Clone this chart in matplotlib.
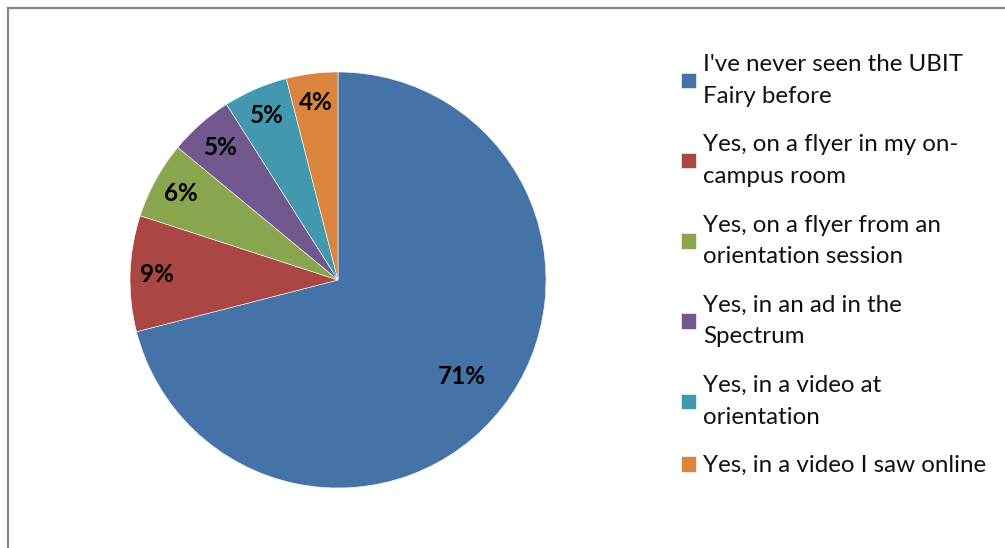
import matplotlib.pyplot as plt
from matplotlib.lines import Line2D
import numpy as np

plt.rcParams['font.family'] = ['Lato', 'DejaVu Sans']

# survey answers, percent of respondents
answers = ["I've never seen the UBIT\nFairy before",
           "Yes, on a flyer in my on-\ncampus room",
           "Yes, on a flyer from an\norientation session",
           "Yes, in an ad in the\nSpectrum",
           "Yes, in a video at\norientation",
           "Yes, in a video I saw online"]
pct = [71, 9, 6, 5, 5, 4]

colors = ['#4572A7', '#AA4643', '#89A54E', '#71588F', '#4198AF', '#DB843D']
label_dist = [0.755, 0.87, 0.86, 0.85, 0.86, 0.86]

W, H = 1005, 548
fig = plt.figure(figsize=(W / 100, H / 100), dpi=100)

# pie centre (338, 280) px, radius 208 px
cx, cy, r = 338, 280, 208
ax = fig.add_axes([(cx - r) / W, (H - cy - r) / H, 2 * r / W, 2 * r / H])
wedges, _ = ax.pie(pct, colors=colors, startangle=90, counterclock=False,
                   radius=1, wedgeprops=dict(edgecolor='white', linewidth=0.4))
ax.set_xlim(-1, 1)
ax.set_ylim(-1, 1)

for w, p, d in zip(wedges, pct, label_dist):
    ang = np.deg2rad((w.theta1 + w.theta2) / 2)
    ax.text(d * np.cos(ang), d * np.sin(ang), '%d%%' % p, ha='center', va='center',
            fontsize=17.5, fontweight='bold', color='black')

leg = ax.legend(wedges, answers, loc='upper left', bbox_to_anchor=(681 / W, 1 - 54 / H),
                bbox_transform=fig.transFigure, frameon=False, fontsize=17.4,
                handlelength=0.62, handleheight=0.62, handletextpad=0.3,
                labelspacing=1.14, borderpad=0, borderaxespad=0)
for t in leg.get_texts():
    t.set_linespacing(1.63)
    t.set_color('#111111')

# chart area frame (only top and left edges fall inside the image)
fig.add_artist(Line2D([8 / W, 1], [1 - 8 / H, 1 - 8 / H], transform=fig.transFigure,
                      color='#888888', linewidth=1.6))
fig.add_artist(Line2D([8 / W, 8 / W], [0, 1 - 8 / H], transform=fig.transFigure,
                      color='#888888', linewidth=1.6))

fig.savefig('out.png', dpi=100, facecolor='white')
